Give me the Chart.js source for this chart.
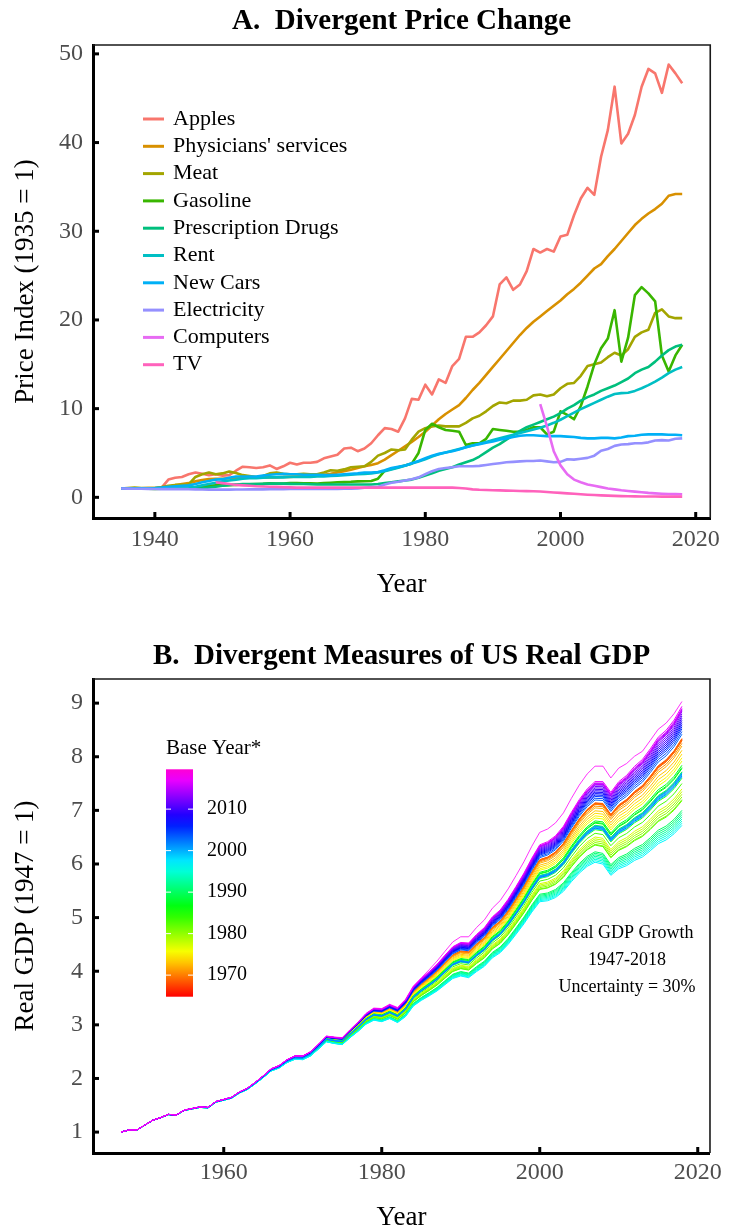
<!DOCTYPE html>
<html><head><meta charset="utf-8">
<script src="https://cdn.jsdelivr.net/npm/chart.js@4.4.0/dist/chart.umd.min.js"></script>
<style>
html,body{margin:0;padding:0;background:#fff;}
#wrap{position:relative;width:730px;height:1232px;overflow:hidden;}
.box{position:absolute;left:0;width:730px;height:616px;}
</style></head><body>
<div id="wrap">
<div class="box" style="top:0"><canvas id="cA" width="730" height="616"></canvas></div>
<div class="box" style="top:616px"><canvas id="cB" width="730" height="616"></canvas></div>
</div>
<script>
const FONT = "'Liberation Serif','Times New Roman',Times,serif";

// ---------- Panel A data ----------
const priceYears = [1935,1936,1937,1938,1939,1940,1941,1942,1943,1944,1945,1946,1947,1948,1949,1950,1951,1952,1953,1954,1955,1956,1957,1958,1959,1960,1961,1962,1963,1964,1965,1966,1967,1968,1969,1970,1971,1972,1973,1974,1975,1976,1977,1978,1979,1980,1981,1982,1983,1984,1985,1986,1987,1988,1989,1990,1991,1992,1993,1994,1995,1996,1997,1998,1999,2000,2001,2002,2003,2004,2005,2006,2007,2008,2009,2010,2011,2012,2013,2014,2015,2016,2017,2018];
const apples = [1.00,1.00,1.00,1.00,1.00,1.00,1.10,2.00,2.20,2.30,2.60,2.80,2.65,2.50,2.60,2.45,2.50,3.00,3.45,3.40,3.30,3.40,3.60,3.20,3.50,3.90,3.70,3.90,3.90,4.00,4.40,4.60,4.80,5.50,5.60,5.20,5.50,6.10,7.00,7.80,7.70,7.40,8.90,11.10,11.00,12.70,11.60,13.30,12.90,14.80,15.60,18.10,18.10,18.60,19.40,20.40,24.00,24.80,23.40,24.00,25.50,28.00,27.60,28.00,27.70,29.40,29.60,31.80,33.70,34.90,34.10,38.40,41.40,46.30,39.90,41.00,43.10,46.30,48.30,47.80,45.60,48.80,47.80,46.70];
const physicians = [1.00,1.00,1.02,1.03,1.04,1.05,1.10,1.20,1.35,1.50,1.60,1.80,1.95,2.05,2.10,2.10,2.15,2.20,2.20,2.20,2.20,2.25,2.25,2.25,2.30,2.30,2.35,2.35,2.40,2.45,2.55,2.65,2.80,2.95,3.10,3.30,3.50,3.65,3.85,4.25,4.75,5.25,5.75,6.25,6.80,7.40,8.10,8.80,9.40,9.90,10.40,11.20,12.10,12.90,13.80,14.70,15.60,16.50,17.40,18.30,19.10,19.80,20.40,21.00,21.60,22.20,22.90,23.50,24.20,25.00,25.80,26.30,27.20,28.00,28.90,29.80,30.70,31.40,32.00,32.50,33.10,34.00,34.20,34.20];
const meat = [1.00,1.05,1.10,1.05,1.05,1.05,1.15,1.30,1.40,1.40,1.45,2.30,2.60,2.80,2.60,2.70,2.90,2.75,2.50,2.40,2.30,2.40,2.70,2.80,2.65,2.60,2.60,2.65,2.60,2.60,2.80,3.05,3.00,3.15,3.40,3.45,3.50,4.00,4.70,5.00,5.40,5.30,5.40,6.50,7.40,7.80,8.00,8.10,8.00,8.00,8.00,8.40,8.90,9.20,9.70,10.30,10.70,10.60,10.90,10.90,11.00,11.50,11.60,11.40,11.60,12.30,12.80,12.90,13.70,14.80,15.00,15.20,15.80,16.30,16.00,16.70,18.10,18.60,18.90,20.80,21.20,20.40,20.20,20.20];
const gasoline = [1.00,1.00,1.00,1.00,0.98,0.95,0.98,1.05,1.08,1.08,1.08,1.08,1.15,1.30,1.35,1.35,1.38,1.40,1.45,1.48,1.50,1.52,1.58,1.55,1.55,1.60,1.60,1.58,1.58,1.55,1.60,1.65,1.70,1.72,1.75,1.80,1.82,1.85,2.10,3.00,3.20,3.40,3.60,3.80,5.00,7.60,8.30,7.90,7.60,7.50,7.40,5.90,6.10,6.10,6.60,7.70,7.60,7.50,7.40,7.40,7.60,7.90,7.90,7.10,7.40,9.70,9.30,8.80,10.30,12.50,15.00,16.80,17.90,21.10,15.30,18.00,22.80,23.70,23.00,22.10,16.00,14.20,16.00,17.20];
const drugs = [1.00,1.00,1.00,1.00,1.00,1.00,1.00,1.00,1.00,1.00,1.00,1.00,1.00,1.10,1.20,1.30,1.40,1.45,1.50,1.50,1.50,1.52,1.55,1.55,1.55,1.52,1.50,1.50,1.48,1.45,1.45,1.45,1.45,1.45,1.45,1.45,1.45,1.45,1.50,1.60,1.70,1.80,1.90,2.00,2.20,2.45,2.70,3.00,3.20,3.40,3.70,3.95,4.20,4.60,5.10,5.60,6.00,6.50,7.00,7.50,7.90,8.20,8.50,8.80,9.10,9.50,10.00,10.40,10.90,11.30,11.60,12.00,12.30,12.60,13.00,13.40,14.00,14.40,14.70,15.30,16.00,16.60,17.00,17.20];
const rent = [1.00,1.00,1.02,1.03,1.03,1.03,1.05,1.08,1.08,1.10,1.12,1.20,1.35,1.50,1.65,1.80,1.90,2.00,2.10,2.15,2.15,2.20,2.25,2.25,2.25,2.30,2.30,2.30,2.30,2.35,2.35,2.40,2.45,2.50,2.55,2.60,2.65,2.70,2.80,2.95,3.15,3.35,3.55,3.80,4.05,4.30,4.60,4.85,5.05,5.25,5.45,5.65,5.85,6.05,6.25,6.45,6.65,6.85,7.05,7.25,7.45,7.65,7.85,8.10,8.40,8.75,9.15,9.55,9.95,10.30,10.65,11.00,11.35,11.65,11.75,11.80,12.00,12.30,12.65,13.05,13.50,14.00,14.40,14.70];
const newCars = [1.00,1.00,1.02,1.02,1.02,1.05,1.10,1.20,1.25,1.30,1.35,1.50,1.70,1.85,2.00,2.05,2.20,2.35,2.35,2.35,2.35,2.45,2.55,2.60,2.65,2.60,2.60,2.55,2.55,2.55,2.50,2.50,2.55,2.60,2.65,2.70,2.80,2.80,2.85,3.05,3.30,3.45,3.60,3.85,4.10,4.40,4.70,4.90,5.05,5.20,5.40,5.65,5.85,6.00,6.15,6.30,6.50,6.65,6.80,6.95,7.00,7.00,6.95,6.90,6.90,6.90,6.85,6.80,6.70,6.65,6.65,6.70,6.70,6.65,6.75,6.90,6.95,7.05,7.10,7.10,7.10,7.05,7.05,7.00];
const electricity = [1.00,0.98,0.97,0.96,0.95,0.94,0.93,0.93,0.93,0.92,0.92,0.90,0.88,0.87,0.87,0.87,0.87,0.88,0.89,0.90,0.90,0.90,0.91,0.92,0.93,0.94,0.95,0.95,0.95,0.95,0.95,0.95,0.95,0.96,0.97,1.00,1.08,1.15,1.20,1.45,1.65,1.75,1.90,2.05,2.25,2.60,2.95,3.20,3.30,3.40,3.50,3.50,3.50,3.55,3.65,3.75,3.85,3.95,4.00,4.05,4.10,4.10,4.15,4.05,3.95,4.00,4.30,4.25,4.35,4.45,4.70,5.25,5.45,5.80,5.95,6.00,6.10,6.10,6.20,6.40,6.45,6.40,6.60,6.65];
const computers = [null,null,null,null,null,null,null,null,null,null,null,null,null,null,null,null,null,null,null,null,null,null,null,null,null,null,null,null,null,null,null,null,null,null,null,null,null,null,null,null,null,null,null,null,null,null,null,null,null,null,null,null,null,null,null,null,null,null,null,null,null,null,10.50,8.00,5.20,3.60,2.60,2.00,1.70,1.45,1.30,1.15,1.00,0.90,0.80,0.72,0.64,0.57,0.50,0.45,0.41,0.38,0.36,0.34];
const tv = [null,null,null,null,null,null,null,null,null,null,null,null,null,null,1.70,1.60,1.50,1.40,1.35,1.30,1.25,1.22,1.20,1.18,1.15,1.12,1.10,1.10,1.10,1.10,1.10,1.10,1.10,1.10,1.10,1.10,1.10,1.10,1.10,1.10,1.10,1.10,1.10,1.10,1.10,1.10,1.10,1.10,1.10,1.10,1.05,1.00,0.90,0.85,0.82,0.80,0.78,0.76,0.74,0.72,0.70,0.68,0.65,0.60,0.55,0.50,0.45,0.40,0.35,0.30,0.26,0.22,0.19,0.16,0.14,0.12,0.11,0.10,0.09,0.09,0.08,0.08,0.08,0.08];
const seriesNames = ["Apples","Physicians' services","Meat","Gasoline","Prescription Drugs","Rent","New Cars","Electricity","Computers","TV"];
const seriesColors = ['#F8766D','#D89000','#A3A500','#39B600','#00BF7D','#00BFC4','#00B0F6','#9590FF','#E76BF3','#FF62BC'];
const xTicksA = [1940,1960,1980,2000,2020];
const yTicksA = [0,10,20,30,40,50];

// ---------- Panel B data ----------
const gdpYears = [1947,1948,1949,1950,1951,1952,1953,1954,1955,1956,1957,1958,1959,1960,1961,1962,1963,1964,1965,1966,1967,1968,1969,1970,1971,1972,1973,1974,1975,1976,1977,1978,1979,1980,1981,1982,1983,1984,1985,1986,1987,1988,1989,1990,1991,1992,1993,1994,1995,1996,1997,1998,1999,2000,2001,2002,2003,2004,2005,2006,2007,2008,2009,2010,2011,2012,2013,2014,2015,2016,2017,2018];
const gdpPath = [1.00,1.04,1.04,1.13,1.22,1.27,1.33,1.32,1.41,1.44,1.47,1.46,1.57,1.61,1.65,1.75,1.82,1.93,2.05,2.18,2.24,2.35,2.42,2.42,2.50,2.64,2.79,2.77,2.76,2.91,3.05,3.21,3.31,3.30,3.38,3.32,3.47,3.72,3.87,4.00,4.14,4.31,4.47,4.55,4.54,4.70,4.83,5.03,5.16,5.36,5.60,5.85,6.13,6.38,6.44,6.55,6.73,6.99,7.23,7.43,7.57,7.57,7.37,7.57,7.69,7.86,7.99,8.19,8.41,8.54,8.73,8.99];
const gdpSpread = [0,0.002,0.004,0.006,0.008,0.010,0.012,0.014,0.017,0.020,0.023,0.026,0.030,0.034,0.038,0.042,0.047,0.052,0.058,0.065,0.072,0.080,0.090,0.100,0.110,0.120,0.135,0.150,0.165,0.180,0.200,0.220,0.240,0.260,0.280,0.300,0.330,0.360,0.390,0.420,0.450,0.480,0.500,0.520,0.540,0.560,0.570,0.580,0.590,0.600,0.610,0.620,0.630,0.640,0.660,0.680,0.700,0.720,0.740,0.760,0.780,0.800,0.830,0.850,0.870,0.890,0.910,0.930,0.950,0.965,0.980,1.000];
const latestBaseLift = [0,0,0,0,0,0,0,0,0,0,0,0,0,0,0,0,0,0,0,0,0,0,0,0,0,0,0,0,0,0,0,0,0,0,0,0,0,0,0,0.005,0.010,0.012,0.015,0.018,0.020,0.022,0.024,0.026,0.028,0.030,0.030,0.030,0.030,0.030,0.030,0.030,0.030,0.030,0.030,0.030,0.030,0.030,0.028,0.025,0.020,0.015,0.010,0.010,0.008,0.006,0.004,0];
const baseYears = [1966,1967,1968,1969,1970,1971,1972,1973,1974,1975,1976,1977,1978,1979,1980,1981,1982,1983,1984,1985,1986,1987,1988,1989,1990,1991,1992,1993,1994,1995,1996,1997,1998,1999,2000,2001,2002,2003,2004,2005,2006,2007,2008,2009,2010,2011,2012,2013,2014,2015,2016,2017,2018];
const baseEnd2018 = [8.30,8.32,8.34,8.33,8.30,8.25,8.20,8.12,8.05,7.98,7.92,7.40,7.35,7.30,7.25,7.20,7.18,7.50,7.60,7.70,7.78,7.84,7.80,7.72,7.00,6.96,6.92,6.88,6.84,6.80,6.76,6.72,7.62,7.66,7.70,7.68,7.64,8.42,8.47,8.52,8.56,8.60,8.64,8.68,8.72,8.76,8.80,8.84,8.88,8.86,8.90,8.94,9.03];
const colorbarRange = [1964.8, 2019.6];
const colorbarTicks = [1970,1980,1990,2000,2010];
const xTicksB = [1960,1980,2000,2020];
const yTicksB = [1,2,3,4,5,6,7,8,9];
const noteLines = ['Real GDP Growth','1947-2018','Uncertainty = 30%'];

function hueForYear(b){ return (b - colorbarRange[0]) / (colorbarRange[1] - colorbarRange[0]) * 310; }
function colorForYear(b){ return 'hsl(' + hueForYear(b).toFixed(1) + ',100%,50%)'; }

function xScale(min, max, ticks, height, tickPad, titlePad){
  return {
    type:'linear', min:min, max:max,
    afterBuildTicks: s => { s.ticks = ticks.map(v => ({value:v})); },
    afterFit: s => { s.height = height; },
    grid:{display:false, drawTicks:false},
    border:{display:true, color:'#000', width:3},
    ticks:{color:'#4D4D4D', font:{family:FONT, size:24, lineHeight:1}, padding:tickPad, autoSkip:false, maxRotation:0, callback: v => String(v)},
    title:{display:true, text:'Year', color:'#000', font:{family:FONT, size:27, lineHeight:1}, padding:{top:0, bottom:titlePad}}
  };
}
function yScale(min, max, ticks, title, titlePad){
  return {
    type:'linear', min:min, max:max,
    afterBuildTicks: s => { s.ticks = ticks.map(v => ({value:v})); },
    afterFit: s => { s.width = 93; },
    grid:{display:false, drawTicks:false},
    border:{display:true, color:'#000', width:3},
    ticks:{color:'#4D4D4D', font:{family:FONT, size:24, lineHeight:1}, padding:10, callback: v => String(v)},
    title:{display:true, text:title, color:'#000', font:{family:FONT, size:27, lineHeight:1}, padding:{top:titlePad, bottom:0}}
  };
}

function framePlugin(titleText, titleY){
  return {
    id:'frame',
    afterDraw(chart){
      const ctx = chart.ctx, a = chart.chartArea;
      const xs = chart.scales.x, ys = chart.scales.y;
      ctx.save();
      ctx.strokeStyle = '#1a1a1a'; ctx.lineWidth = 1.6;
      ctx.beginPath();
      ctx.moveTo(a.left, a.top); ctx.lineTo(a.right, a.top); ctx.lineTo(a.right, a.bottom);
      ctx.stroke();
      ctx.strokeStyle = '#000'; ctx.lineWidth = 3; ctx.lineCap = 'butt';
      xs.ticks.forEach(t => { const px = xs.getPixelForValue(t.value); ctx.beginPath(); ctx.moveTo(px, a.bottom); ctx.lineTo(px, a.bottom - 6); ctx.stroke(); });
      ys.ticks.forEach(t => { const py = ys.getPixelForValue(t.value); ctx.beginPath(); ctx.moveTo(a.left, py); ctx.lineTo(a.left + 6, py); ctx.stroke(); });
      ctx.fillStyle = '#000';
      ctx.font = 'bold 29px ' + FONT;
      ctx.textAlign = 'center'; ctx.textBaseline = 'middle';
      ctx.fillText(titleText, (a.left + a.right) / 2, titleY);
      ctx.restore();
    }
  };
}

// ---------- Chart A ----------
const seriesA = [apples, physicians, meat, gasoline, drugs, rent, newCars, electricity, computers, tv];
const dsA = seriesA.map((arr, i) => ({
  label: seriesNames[i],
  data: priceYears.map((yr, j) => ({x:yr, y:arr[j]})).filter(p => p.y !== null),
  borderColor: seriesColors[i], backgroundColor: seriesColors[i],
  borderWidth: 2.6, pointRadius: 0, tension: 0, order: seriesA.length - i,
  borderJoinStyle: 'round'
}));
const legendPlugin = {
  id:'legendA',
  afterDraw(chart){
    const ctx = chart.ctx;
    ctx.save();
    ctx.font = '22px ' + FONT; ctx.textBaseline = 'middle'; ctx.textAlign = 'left';
    seriesNames.forEach((name, i) => {
      const y = 119 + i * 27.3;
      ctx.strokeStyle = seriesColors[i]; ctx.lineWidth = 3;
      ctx.beginPath(); ctx.moveTo(143, y); ctx.lineTo(164, y); ctx.stroke();
      ctx.fillStyle = '#000'; ctx.fillText(name, 173, y);
    });
    ctx.restore();
  }
};
new Chart(document.getElementById('cA'), {
  type:'line',
  data:{datasets: dsA},
  options:{
    responsive:false, animation:false, events:[],
    layout:{padding:{top:45, right:12, bottom:0, left:0}},
    plugins:{legend:{display:false}, tooltip:{enabled:false}, title:{display:false}},
    scales:{
      x: xScale(1930.85, 2022.15, xTicksA, 98, 10, 18),
      y: yScale(-2.33, 51.0, yTicksA, 'Price Index (1935 = 1)', 12)
    }
  },
  plugins:[framePlugin('A.  Divergent Price Change', 22), legendPlugin]
});

// ---------- Chart B ----------
const pathEnd = gdpPath[gdpPath.length - 1];
const dsB = [];
for (let k = baseYears.length - 1; k >= 0; k--) {
  const b = baseYears[k];
  const r = baseEnd2018[k] / pathEnd;
  const latest = (k === baseYears.length - 1);
  dsB.push({
    label: String(b),
    data: gdpYears.map((yr, j) => ({x:yr, y: gdpPath[j] * Math.pow(r, gdpSpread[j]) * (latest ? 1 + latestBaseLift[j] : 1)})),
    borderColor: colorForYear(b), backgroundColor: colorForYear(b),
    borderWidth: latest ? 0.8 : 1.0, pointRadius: 0, tension: 0
  });
}
const colorbarPlugin = {
  id:'colorbar',
  afterDraw(chart){
    const ctx = chart.ctx;
    const L = 166, R = 193, T = 153.3, B = 380.7;
    ctx.save();
    const g = ctx.createLinearGradient(0, B, 0, T);
    for (let s = 0; s <= 20; s++) { const f = s / 20; g.addColorStop(f, 'hsl(' + (f * 310).toFixed(1) + ',100%,50%)'); }
    ctx.fillStyle = g; ctx.fillRect(L, T, R - L, B - T);
    ctx.strokeStyle = '#fff'; ctx.lineWidth = 1;
    ctx.fillStyle = '#000'; ctx.font = '20px ' + FONT; ctx.textAlign = 'left'; ctx.textBaseline = 'middle';
    colorbarTicks.forEach(yr => {
      const y = B - (yr - colorbarRange[0]) / (colorbarRange[1] - colorbarRange[0]) * (B - T);
      ctx.beginPath(); ctx.moveTo(L, y); ctx.lineTo(L + 5, y); ctx.moveTo(R - 5, y); ctx.lineTo(R, y); ctx.stroke();
      ctx.fillText(String(yr), 207, y);
    });
    ctx.font = '21px ' + FONT;
    ctx.fillText('Base Year*', 166, 132.5);
    ctx.font = '18px ' + FONT; ctx.textAlign = 'center'; ctx.textBaseline = 'alphabetic';
    noteLines.forEach((t, i) => ctx.fillText(t, 627, 322.3 + i * 26.7));
    ctx.restore();
  }
};
new Chart(document.getElementById('cB'), {
  type:'line',
  data:{datasets: dsB},
  options:{
    responsive:false, animation:false, events:[],
    layout:{padding:{top:63, right:13, bottom:0, left:0}},
    plugins:{legend:{display:false}, tooltip:{enabled:false}, title:{display:false}},
    scales:{
      x: xScale(1943.45, 2021.55, xTicksB, 79, 8, 0.5),
      y: yScale(0.61, 9.45, yTicksB, 'Real GDP (1947 = 1)', 12)
    }
  },
  plugins:[framePlugin('B.  Divergent Measures of US Real GDP', 41), colorbarPlugin]
});
</script>
</body></html>
